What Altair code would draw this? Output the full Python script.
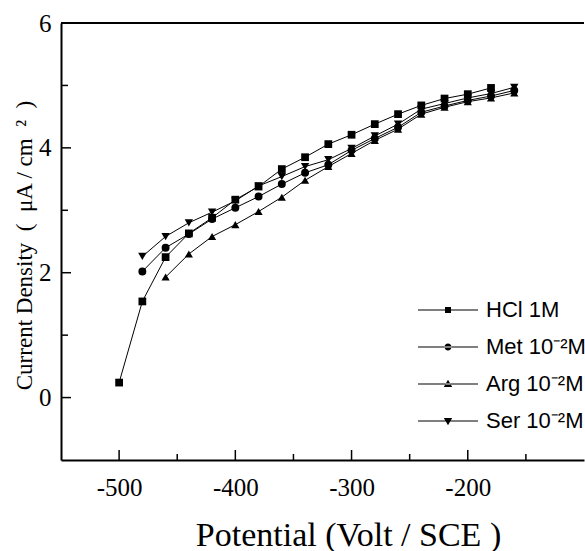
import altair as alt
import pandas as pd

# ---- data ----
series_names = ["HCl 1M", "Met 10⁻²M", "Arg 10⁻²M", "Ser 10⁻²M"]

hcl_x = [-500, -480, -460, -440, -420, -400, -380, -360, -340, -320, -300, -280, -260, -240, -220, -200, -180]
hcl_y = [0.24, 1.54, 2.25, 2.63, 2.88, 3.17, 3.38, 3.66, 3.85, 4.06, 4.21, 4.38, 4.54, 4.68, 4.79, 4.86, 4.96]

met_x = [-480, -460, -440, -420, -400, -380, -360, -340, -320, -300, -280, -260, -240, -220, -200, -180, -160]
met_y = [2.02, 2.40, 2.62, 2.86, 3.04, 3.22, 3.42, 3.60, 3.73, 3.96, 4.15, 4.33, 4.57, 4.67, 4.76, 4.83, 4.92]

arg_x = [-460, -440, -420, -400, -380, -360, -340, -320, -300, -280, -260, -240, -220, -200, -180, -160]
arg_y = [1.93, 2.30, 2.58, 2.77, 2.98, 3.21, 3.48, 3.70, 3.91, 4.12, 4.30, 4.54, 4.65, 4.74, 4.80, 4.88]

ser_x = [-480, -460, -440, -420, -400, -380, -360, -340, -320, -300, -280, -260, -240, -220, -200, -180, -160]
ser_y = [2.26, 2.58, 2.80, 2.97, 3.15, 3.39, 3.54, 3.70, 3.81, 3.99, 4.19, 4.38, 4.62, 4.71, 4.80, 4.87, 4.97]

x_major_ticks = [-500, -400, -300, -200]
x_minor_ticks = [-450, -350, -250, -150]
y_major_ticks = [0, 2, 4, 6]
y_minor_ticks = [1, 3, 5]

# ---- build table ----
rows = []
for name, xs, ys in zip(series_names, [hcl_x, met_x, arg_x, ser_x], [hcl_y, met_y, arg_y, ser_y]):
    for xv, yv in zip(xs, ys):
        rows.append({"series": name, "potential": xv, "current": yv})
df = pd.DataFrame(rows)

W, H = 523, 437
serif = "Liberation Serif"
sans = "Liberation Sans"

x_scale = alt.Scale(domain=[-550, -100], nice=False, zero=False)
y_scale = alt.Scale(domain=[-1, 6], nice=False, zero=False)

x_axis = alt.Axis(
    values=x_major_ticks, labelExpr="'' + datum.value", labelFont=serif, labelFontSize=25,
    labelColor="black", ticks=False, tickSize=0, labelPadding=35, labelBaseline="alphabetic",
    grid=False, domainColor="black", domainWidth=2,
    title="Potential (Volt / SCE )", titleFont=serif, titleFontSize=34, titleFontWeight="normal",
    titleColor="black", titleX=287, titleY=85, titleBaseline="alphabetic", titleAlign="center",
)
y_axis = alt.Axis(
    values=y_major_ticks, labelExpr="'' + datum.value", labelFont=serif, labelFontSize=25,
    labelColor="black", ticks=False, tickSize=0, labelPadding=10, grid=False,
    domainColor="black", domainWidth=2, labelOverlap=False, labelFlush=False,
    title="Current Density\u2002(\u2002μA / cm\u2002²\u2002)", titleFont=serif, titleFontSize=23,
    titleFontWeight="normal", titleColor="black", titleX=-37, titleY=222,
    titleBaseline="middle", titleAlign="center", titleAngle=270,
)

base = alt.Chart(df)

lines = base.mark_line(color="black", strokeWidth=1).encode(
    x=alt.X("potential:Q", scale=x_scale, axis=x_axis),
    y=alt.Y("current:Q", scale=y_scale, axis=y_axis),
    detail="series:N",
)

points = base.mark_point(filled=True, color="black", opacity=1).encode(
    x=alt.X("potential:Q", scale=x_scale, axis=x_axis),
    y=alt.Y("current:Q", scale=y_scale, axis=y_axis),
    shape=alt.Shape("series:N",
                    scale=alt.Scale(domain=series_names,
                                    range=["square", "circle", "triangle-up", "triangle-down"]),
                    legend=None),
    size=alt.Size("series:N",
                  scale=alt.Scale(domain=series_names, range=[60, 70, 85, 85]),
                  legend=None),
)

line_part = "M-3,-0.04L1,-0.04L1,0.04L-3,0.04Z"
legend_paths = [
    line_part + "M-1.2,-0.2L-0.8,-0.2L-0.8,0.2L-1.2,0.2Z",
    line_part + "M-1.23,0A0.23,0.23,0,1,0,-0.77,0A0.23,0.23,0,1,0,-1.23,0Z",
    line_part + "M-1.28,0.2L-0.72,0.2L-1,-0.28Z",
    line_part + "M-1.28,-0.2L-0.72,-0.2L-1,0.28Z",
]

legend_layer = base.mark_point(filled=True, color="black").encode(
    x=alt.X("potential:Q", scale=x_scale, axis=x_axis),
    y=alt.Y("current:Q", scale=y_scale, axis=y_axis),
    shape=alt.Shape(
        "series:N",
        scale=alt.Scale(domain=series_names, range=legend_paths),
        legend=alt.Legend(
            title=None, orient="none", legendX=387, legendY=272, padding=0,
            symbolSize=900, symbolFillColor="black", symbolStrokeColor="black",
            symbolStrokeWidth=0, symbolOpacity=1, labelOffset=8, rowPadding=11,
            labelFont=sans, labelFontSize=22, labelColor="black", labelLimit=200,
        ),
    ),
).transform_filter("datum.potential > 1000")

top_line = alt.Chart(pd.DataFrame({"a": [0]})).mark_rule(color="black", strokeWidth=2).encode(
    x=alt.value(0), x2=alt.value(W), y=alt.value(0)
)

xmaj = alt.Chart(pd.DataFrame({"potential": x_major_ticks})).mark_rule(color="black", strokeWidth=1.5).encode(
    x=alt.X("potential:Q", scale=x_scale, axis=x_axis), y=alt.value(H), y2=alt.value(H - 10)
)
xmin = alt.Chart(pd.DataFrame({"potential": x_minor_ticks})).mark_rule(color="black", strokeWidth=1.5).encode(
    x=alt.X("potential:Q", scale=x_scale, axis=x_axis), y=alt.value(H), y2=alt.value(H - 6)
)
ymaj = alt.Chart(pd.DataFrame({"current": y_major_ticks})).mark_rule(color="black", strokeWidth=1.5).encode(
    y=alt.Y("current:Q", scale=y_scale, axis=y_axis), x=alt.value(0), x2=alt.value(10)
)
ymin = alt.Chart(pd.DataFrame({"current": y_minor_ticks})).mark_rule(color="black", strokeWidth=1.5).encode(
    y=alt.Y("current:Q", scale=y_scale, axis=y_axis), x=alt.value(0), x2=alt.value(7)
)

chart = alt.layer(lines, points, legend_layer, top_line, xmaj, xmin, ymaj, ymin).resolve_scale(
    shape="independent", size="independent"
).properties(
    width=W, height=H,
    autosize=alt.AutoSizeParams(type="none"),
    padding={"left": 61, "top": 23, "right": 1, "bottom": 91},
    background="white",
).configure_view(stroke=None)

chart.save("out.html", embed_options={"renderer": "svg", "actions": False})
